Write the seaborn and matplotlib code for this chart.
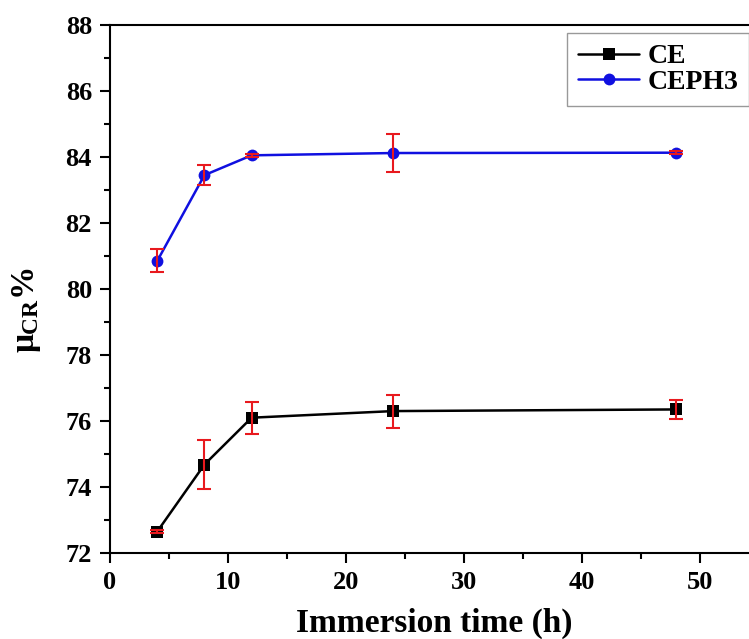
import pandas as pd
import seaborn as sns
import matplotlib.pyplot as plt
from matplotlib.ticker import MultipleLocator

# Data
time_h = [4, 8, 12, 24, 48]
ce_mean = [72.65, 74.68, 76.10, 76.30, 76.35]
ce_err = [0.05, 0.75, 0.48, 0.50, 0.30]
ceph3_mean = [80.85, 83.45, 84.05, 84.12, 84.13]
ceph3_err = [0.35, 0.30, 0.05, 0.57, 0.05]

df = pd.DataFrame({
    'time': time_h * 2,
    'mu': ce_mean + ceph3_mean,
    'sample': ['CE'] * len(time_h) + ['CEPH3'] * len(time_h),
})

sns.set_style('ticks')
plt.rcParams['font.family'] = ['Liberation Serif', 'DejaVu Serif']
plt.rcParams['font.weight'] = 'bold'
plt.rcParams['text.color'] = 'black'
plt.rcParams['axes.labelcolor'] = 'black'
plt.rcParams['xtick.color'] = 'black'
plt.rcParams['ytick.color'] = 'black'
plt.rcParams['mathtext.fontset'] = 'custom'
plt.rcParams['mathtext.rm'] = 'Liberation Serif:bold'
plt.rcParams['mathtext.it'] = 'Liberation Serif:bold'
plt.rcParams['mathtext.bf'] = 'Liberation Serif:bold'

fig = plt.figure(figsize=(7.49, 6.39), dpi=100)
ax = fig.add_axes([0.1469, 0.1346, 0.8665, 0.8263])

sns.lineplot(data=df, x='time', y='mu', hue='sample', style='sample',
             palette={'CE': 'black', 'CEPH3': '#1010e0'},
             markers={'CE': 's', 'CEPH3': 'o'}, dashes=False,
             markersize=8.5, markeredgewidth=0, linewidth=1.8, ax=ax)

# Red error bars on top of the markers
ax.errorbar(time_h, ce_mean, yerr=ce_err, fmt='none', ecolor='#e8191e',
            elinewidth=1.5, capsize=5, capthick=1.5, zorder=5)
ax.errorbar(time_h, ceph3_mean, yerr=ceph3_err, fmt='none', ecolor='#e8191e',
            elinewidth=1.5, capsize=5, capthick=1.5, zorder=5)

ax.set_xlim(0, 55)
ax.set_ylim(72, 88)
ax.xaxis.set_major_locator(MultipleLocator(10))
ax.xaxis.set_minor_locator(MultipleLocator(5))
ax.yaxis.set_major_locator(MultipleLocator(2))
ax.yaxis.set_minor_locator(MultipleLocator(1))
ax.tick_params(which='major', direction='out', length=7, width=1.5,
               labelsize=19, pad=6)
ax.tick_params(which='minor', direction='out', length=4, width=1.5)
for s in ax.spines.values():
    s.set_linewidth(1.5)
    s.set_color('black')

ax.set_xlabel('Immersion time (h)', fontsize=24, fontweight='bold', labelpad=10)
ax.set_ylabel(r'$\mu_{CR}$%', fontsize=24, fontweight='bold')
ax.yaxis.set_label_coords(-0.103, 0.46)

leg = ax.legend(loc='upper left', bbox_to_anchor=(0.704, 0.985), fontsize=20,
                frameon=True, fancybox=False, edgecolor='gray',
                borderaxespad=0, handlelength=2.2, handletextpad=0.3,
                borderpad=0.4, labelspacing=0.0)
leg.get_frame().set_linewidth(1.0)

fig.savefig('out.png', dpi=100)
